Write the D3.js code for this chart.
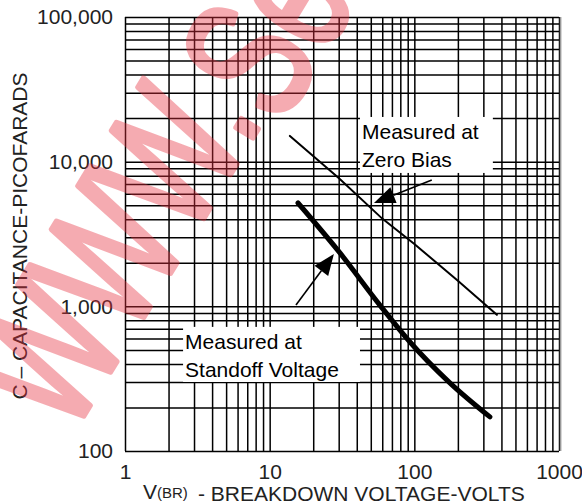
<!DOCTYPE html>
<html><head><meta charset="utf-8">
<script src="https://cdn.jsdelivr.net/npm/d3@7"></script>
<style>
html,body{margin:0;padding:0;background:#fff;}
svg{display:block;font-family:"Liberation Sans",Arial,sans-serif;}
</style></head>
<body>
<svg id="chart" width="582" height="504"></svg>
<script>
// ---- data ----
const xMajorTicks = [1, 10, 100, 1000];
const xTickLabels = ["1", "10", "100", "1000"];
const yMajorTicks = [100, 1000, 10000, 100000];
const yTickLabels = ["100", "1,000", "10,000", "100,000"];
const gridMultipliers = [1, 2, 3, 4, 5, 6, 7, 8, 9];

// Measured at Zero Bias (V, pF)
const zeroBiasV = [13.8, 30, 60, 100, 200, 372];
const zeroBiasC = [15070, 7700, 4040, 2700, 1500, 873];
// Measured at Standoff Voltage (V, pF)
const standoffV = [15.7, 30.6, 57.8, 93.3, 176, 333];
const standoffC = [5180, 2340, 1020, 567, 296, 172];

// annotation boxes [V0, V1, C0, C1] and arrows [fromV, fromC, toV, toC]
const zeroBiasBox = [42.1, 349, 20370, 8356];
const standoffBox = [2.52, 42.1, 721, 300];
const zeroBiasLabel = ["Measured at", "Zero Bias"];
const standoffLabel = ["Measured at", "Standoff Voltage"];
const zeroBiasArrow = [132, 7470, 52.6, 5183];
const standoffArrow = [15.2, 1023, 27.8, 2301];

const yTitle = "C \u2013 CAPACITANCE-PICOFARADS";
const xTitleMain = "V";
const xTitleSub = "(BR)";
const xTitleRest = "- BREAKDOWN VOLTAGE-VOLTS";
const watermarkA = "WWW.";
const watermarkB = "Se";

// ---- layout ----
const svg = d3.select("#chart");
const L = 125, R = 559, T = 17, B = 451;
const x = d3.scaleLog().domain([1, 1000]).range([L, R]);
const y = d3.scaleLog().domain([100, 100000]).range([B, T]);

const xGrid = [], yGrid = [];
for (const d of [1, 10, 100]) for (const m of gridMultipliers) xGrid.push(d * m);
xGrid.push(1000);
for (const d of [100, 1000, 10000]) for (const m of gridMultipliers) yGrid.push(d * m);
yGrid.push(100000);

// grid via axes
const gx = svg.append("g").attr("transform", `translate(0,${B})`)
  .call(d3.axisBottom(x).tickValues(xGrid).tickSize(-(B - T)).tickFormat(""));
const gy = svg.append("g").attr("transform", `translate(${L},0)`)
  .call(d3.axisLeft(y).tickValues(yGrid).tickSize(-(R - L)).tickFormat(""));
[gx, gy].forEach(g => {
  g.select(".domain").remove();
  g.selectAll(".tick line").attr("stroke", "#000").attr("stroke-width", 1.5);
});
// frame
svg.append("line").attr("x1", R + 1.6).attr("x2", R + 1.6).attr("y1", T).attr("y2", B)
  .attr("stroke", "#999").attr("stroke-width", 1.6);

// white label boxes
function box(b) {
  svg.append("rect")
    .attr("x", x(b[0])).attr("y", y(b[2]))
    .attr("width", x(b[1]) - x(b[0])).attr("height", y(b[3]) - y(b[2]))
    .attr("fill", "#fff");
}
box(zeroBiasBox);
box(standoffBox);

// tick labels
const xl = svg.append("g").attr("transform", `translate(0,${B})`)
  .call(d3.axisBottom(x).tickValues(xMajorTicks).tickSize(0).tickPadding(27)
    .tickFormat((d, i) => xTickLabels[i]));
const yl = svg.append("g").attr("transform", `translate(${L},0)`)
  .call(d3.axisLeft(y).tickValues(yMajorTicks).tickSize(0).tickPadding(12)
    .tickFormat((d, i) => yTickLabels[i]));
[xl, yl].forEach(g => {
  g.select(".domain").remove();
  g.selectAll("text").attr("font-size", 21).attr("fill", "#222")
    .attr("font-family", "'Liberation Sans',Arial,sans-serif");
});
xl.selectAll("text").attr("dy", 0).attr("y", 28);

// curves
svg.append("path").datum(zeroBiasV.map((v, i) => [v, zeroBiasC[i]]))
  .attr("d", d3.line().x(d => x(d[0])).y(d => y(d[1])))
  .attr("fill", "none").attr("stroke", "#000")
  .attr("stroke-width", 2).attr("stroke-linecap", "round");
svg.append("path").datum(standoffV.map((v, i) => [v, standoffC[i]]))
  .attr("d", d3.line().curve(d3.curveMonotoneX).x(d => x(d[0])).y(d => y(d[1])))
  .attr("fill", "none").attr("stroke", "#000")
  .attr("stroke-width", 5).attr("stroke-linecap", "round");

// arrows
function arrow(a) {
  const x0 = x(a[0]), y0 = y(a[1]), x1 = x(a[2]), y1 = y(a[3]);
  const ang = Math.atan2(y1 - y0, x1 - x0);
  const hl = 21, hw = 8.5;
  const bx = x1 - hl * Math.cos(ang), by = y1 - hl * Math.sin(ang);
  svg.append("line").attr("x1", x0).attr("y1", y0).attr("x2", bx).attr("y2", by)
    .attr("stroke", "#000").attr("stroke-width", 1.6);
  const px = -Math.sin(ang) * hw, py = Math.cos(ang) * hw;
  svg.append("path")
    .attr("d", `M${x1},${y1}L${bx + px},${by + py}L${bx - px},${by - py}Z`)
    .attr("fill", "#000");
}
arrow(zeroBiasArrow);
arrow(standoffArrow);

// annotation text
function label(b, lines) {
  const bx = x(b[0]) + 2, by = y(b[2]);
  lines.forEach((t, i) => {
    svg.append("text").attr("x", bx).attr("y", by + 22 + i * 28.5)
      .attr("font-size", 21).attr("fill", "#000").text(t);
  });
}
label(zeroBiasBox, zeroBiasLabel);
label(standoffBox, standoffLabel);

// axis titles
svg.append("text").attr("transform", `translate(27,${(T + B) / 2 + 2}) rotate(-90)`)
  .attr("text-anchor", "middle").attr("font-size", 21).attr("fill", "#222").text(yTitle);
const xt = svg.append("text").attr("x", 143).attr("y", 499).attr("font-size", 21).attr("fill", "#222");
xt.append("tspan").text(xTitleMain);
xt.append("tspan").attr("font-size", 15).attr("dy", -1).text(xTitleSub);
svg.append("text").attr("x", 198).attr("y", 501).attr("font-size", 21).attr("fill", "#222").text(xTitleRest);

// watermark
const wm = svg.append("text").attr("transform", "translate(70,438) rotate(-58.7) scale(0.68,1)")
  .attr("font-size", 180).attr("font-weight", "normal")
  .attr("fill", "#e8303f").attr("stroke", "#e8303f").attr("stroke-width", 6)
  .attr("stroke-linejoin", "round").attr("opacity", 0.4);
wm.append("tspan").text(watermarkA);
wm.append("tspan").attr("dx", 2).attr("dy", 18).text(watermarkB);
</script>
</body></html>
